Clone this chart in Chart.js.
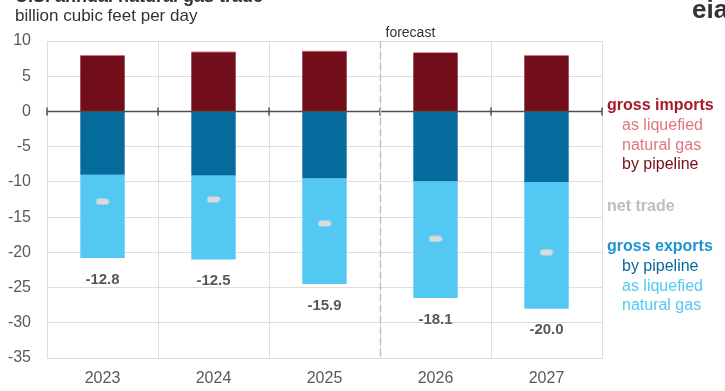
<!DOCTYPE html>
<html>
<head>
<meta charset="utf-8">
<script src="https://cdn.jsdelivr.net/npm/chart.js@4"></script>
<style>
  html, body { margin: 0; padding: 0; background: #fff; }
  #wrap { width: 725px; height: 391px; }
</style>
</head>
<body>
<div id="wrap"><canvas id="tradeChart" width="725" height="391"></canvas></div>
<script>
// U.S. annual natural gas trade, billion cubic feet per day
const years = ['2023', '2024', '2025', '2026', '2027'];
const importsPipeline = [7.9, 8.4, 8.5, 8.3, 7.9];
const importsLng = [0.1, 0.1, 0.1, 0.1, 0.1];
const exportsPipeline = [-9.0, -9.1, -9.5, -9.9, -10.0];
const exportsLng = [-11.8, -11.9, -15.0, -16.6, -18.0];
const netTrade = [-12.8, -12.5, -15.9, -18.1, -20.0];
const yTicks = [10, 5, 0, -5, -10, -15, -20, -25, -30, -35];

const FONT = '"Liberation Sans", Arial, sans-serif';
const TEXT = '#595959';

// little rounded bar used as the net trade marker
const netMarker = document.createElement('canvas');
netMarker.width = 14;
netMarker.height = 7;
(function () {
    const c = netMarker.getContext('2d');
    c.fillStyle = '#dadada';
    c.beginPath();
    c.roundRect(0.5, 0.5, 13, 6, 3);
    c.fill();
})();

const extras = {
    id: 'extras',
    afterDatasetsDraw(chart) {
        const ctx = chart.ctx;
        const x = chart.scales.x;
        const y = chart.scales.y;
        const area = chart.chartArea;
        ctx.save();

        // zero line with little ticks at category boundaries
        const y0 = Math.round(y.getPixelForValue(0)) + 0.5;
        ctx.strokeStyle = '#505050';
        ctx.lineWidth = 1.5;
        ctx.beginPath();
        ctx.moveTo(area.left, y0);
        ctx.lineTo(area.right, y0);
        ctx.stroke();
        const step = (area.right - area.left) / years.length;
        ctx.lineWidth = 1.5;
        for (let i = 0; i <= years.length; i++) {
            const bx = Math.round(area.left + i * step);
            ctx.beginPath();
            ctx.moveTo(bx, y0 - 4);
            ctx.lineTo(bx, y0 + 4);
            ctx.stroke();
        }

        // forecast divider
        const fx = Math.round(area.left + 3 * step) + 0.5;
        ctx.strokeStyle = '#c0c0c8';
        ctx.lineWidth = 1.5;
        ctx.setLineDash([7, 4]);
        ctx.beginPath();
        ctx.moveTo(fx, area.top);
        ctx.lineTo(fx, area.bottom);
        ctx.stroke();
        ctx.setLineDash([]);
        ctx.fillStyle = '#333';
        ctx.font = '14px ' + FONT;
        ctx.textAlign = 'left';
        ctx.textBaseline = 'alphabetic';
        ctx.fillText('forecast', fx + 5, 37);

        // net trade labels under each bar
        ctx.fillStyle = TEXT;
        ctx.font = 'bold 15px ' + FONT;
        ctx.textAlign = 'center';
        ctx.textBaseline = 'top';
        years.forEach((yr, i) => {
            const bottom = y.getPixelForValue(exportsPipeline[i] + exportsLng[i]);
            ctx.fillText(netTrade[i].toFixed(1), x.getPixelForValue(i), bottom + 14);
        });

        // headings
        ctx.textAlign = 'left';
        ctx.textBaseline = 'alphabetic';
        ctx.fillStyle = '#333';
        ctx.font = 'bold 18px ' + FONT;
        ctx.fillText('U.S. annual natural gas trade', 15, 2);
        ctx.fillStyle = '#333';
        ctx.font = '17px ' + FONT;
        ctx.fillText('billion cubic feet per day', 15, 21);
        ctx.fillStyle = '#333';
        ctx.font = 'bold 26px ' + FONT;
        ctx.fillText('eia', 692, 18);

        // legend
        const rows = [
            ['gross imports', 607, 110, '#a6192e', true],
            ['as liquefied', 622, 130, '#e07483', false],
            ['natural gas', 622, 150, '#e07483', false],
            ['by pipeline', 622, 169, '#720e1a', false],
            ['net trade', 607, 211, '#bdbdbd', true],
            ['gross exports', 607, 251, '#1d93d2', true],
            ['by pipeline', 622, 271, '#056a9c', false],
            ['as liquefied', 622, 291, '#52c8f2', false],
            ['natural gas', 622, 310, '#52c8f2', false]
        ];
        rows.forEach(([t, lx, ly, col, bold]) => {
            ctx.fillStyle = col;
            ctx.font = (bold ? 'bold ' : '') + '16px ' + FONT;
            ctx.fillText(t, lx, ly);
        });

        ctx.restore();
    }
};

const ctx = document.getElementById('tradeChart').getContext('2d');
const tradeChart = new Chart(ctx, {
    type: 'bar',
    data: {
        labels: years,
        datasets: [
            {
                type: 'line',
                label: 'net trade',
                data: netTrade,
                showLine: false,
                pointStyle: netMarker,
                pointRadius: 7,
                pointHoverRadius: 7,
                stack: 'net',
                order: -1
            },
            { label: 'imports by pipeline', data: importsPipeline, backgroundColor: '#720e1a', stack: 'trade' },
            { label: 'imports as LNG', data: importsLng, backgroundColor: '#e07483', stack: 'trade' },
            { label: 'exports by pipeline', data: exportsPipeline, backgroundColor: '#056a9c', stack: 'trade' },
            { label: 'exports as LNG', data: exportsLng, backgroundColor: '#52c8f2', stack: 'trade' }
        ]
    },
    options: {
        responsive: false,
        animation: false,
        devicePixelRatio: 1,
        layout: { padding: { left: 0, right: 123, top: 41, bottom: 0 } },
        datasets: { bar: { categoryPercentage: 1, barPercentage: 0.4 } },
        plugins: { legend: { display: false }, tooltip: { enabled: false } },
        scales: {
            x: {
                stacked: true,
                grid: { color: '#dedede', drawTicks: false, offset: true },
                border: { color: '#dedede' },
                ticks: { color: TEXT, font: { family: FONT, size: 16 }, padding: 11 },
                afterFit(s) { s.height = 33; }
            },
            y: {
                stacked: true,
                min: -35,
                max: 10,
                afterBuildTicks(s) { s.ticks = yTicks.map(v => ({ value: v })); },
                grid: { color: '#dedede', drawTicks: false },
                border: { color: '#dedede' },
                ticks: { color: TEXT, font: { family: FONT, size: 16 }, padding: 16 },
                afterFit(s) { s.width = 47; }
            }
        }
    },
    plugins: [extras]
});
</script>
</body>
</html>
